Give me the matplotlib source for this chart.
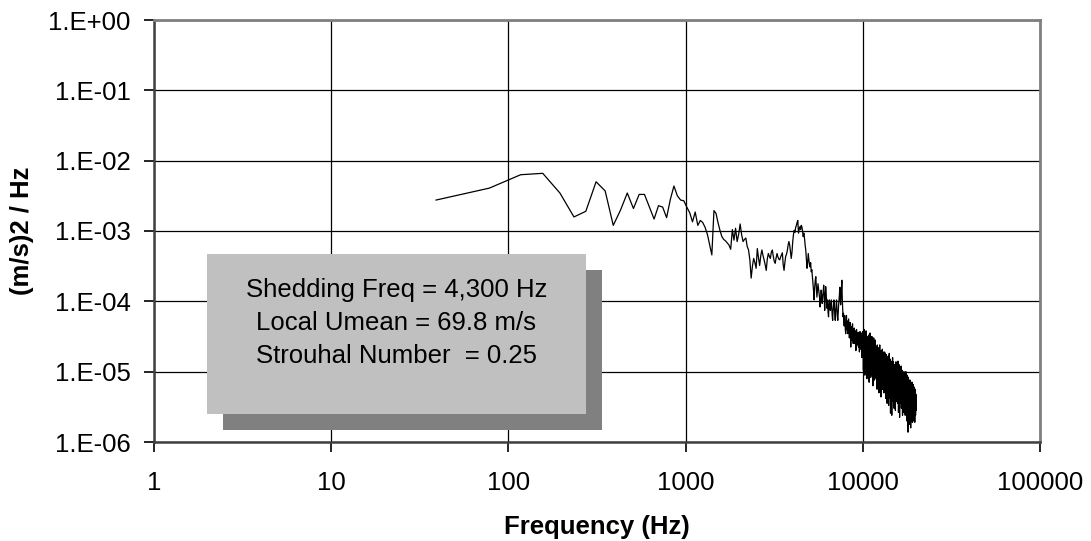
import numpy as np
import matplotlib
matplotlib.use("Agg")
import matplotlib.pyplot as plt
from matplotlib.patches import Rectangle

plt.rcParams['font.family'] = ['Liberation Sans', 'DejaVu Sans']

# ---------------- data ----------------
bin_width_hz = 39.0625          # FFT bin spacing (first bin ~39 Hz, last ~20 kHz)

# log10 of PSD ((m/s)^2/Hz), one value per frequency bin
psd_log10 = [
    -2.56, -2.39, -2.20, -2.18, -2.46, -2.80, -2.72, -2.30, -2.43, -2.92,
    -2.70, -2.46, -2.68, -2.48, -2.48, -2.66, -2.83, -2.64, -2.66, -2.81,
    -2.55, -2.36, -2.50, -2.56, -2.57, -2.66, -2.74, -2.87, -2.73, -2.92,
    -2.85, -2.88, -2.95, -3.05, -3.20, -3.34, -2.71, -2.75, -2.88, -2.99,
    -3.08, -3.12, -3.14, -3.17, -3.20, -3.26, -2.98, -3.13, -2.96, -3.15,
    -3.05, -2.90, -3.05, -3.15, -3.12, -3.10, -3.22, -3.27, -3.41, -3.67,
    -3.50, -3.39, -3.45, -3.53, -3.25, -3.38, -3.49, -3.35, -3.27, -3.35,
    -3.41, -3.48, -3.56, -3.40, -3.32, -3.36, -3.39, -3.30, -3.27, -3.36,
    -3.43, -3.46, -3.38, -3.32, -3.37, -3.40, -3.41, -3.37, -3.34, -3.31,
    -3.48, -3.56, -3.45, -3.36, -3.33, -3.28, -3.20, -3.15, -3.20, -3.30,
    -3.39, -3.30, -3.15, -3.05, -2.99, -3.02, -2.95, -2.92, -2.88, -2.85,
    -3.03, -2.97, -2.94, -2.98, -2.92, -2.94, -3.00, -3.08, -3.03, -3.10,
    -3.20, -3.27, -3.40, -3.53, -3.45, -3.32, -3.40, -3.48, -3.51, -3.45,
    -3.58, -3.55, -3.65, -3.75, -3.85, -3.98, -3.80, -3.70, -3.65, -3.80,
    -3.94, -3.85, -3.75, -3.82, -3.90, -3.95, -4.08, -3.95, -3.84, -3.92,
    -4.03, -3.95, -3.85, -3.77, -3.90, -4.13, -3.95, -3.79, -3.88, -4.03,
    -4.10, -3.98, -4.15, -4.22, -4.05, -3.98, -4.08, -4.13, -4.05, -3.98,
    -4.10, -4.20, -4.27, -4.13, -4.05, -3.98, -4.10, -4.18, -4.27, -4.13,
    -4.05, -3.98, -4.12, -4.22, -4.27, -4.15, -4.05, -3.98, -3.90, -3.80,
    -3.98, -4.05, -3.92, -3.82, -3.70, -3.95, -4.10, -4.22, -4.17, -4.27,
    -4.35, -4.20, -4.30, -4.40, -4.46, -4.30, -4.20, -4.35, -4.41, -4.28,
    -4.46, -4.35, -4.25, -4.40, -4.52, -4.38, -4.30, -4.45, -4.65, -4.36,
    -4.42, -4.55, -4.40, -4.32, -4.50, -4.60, -4.45, -4.55, -4.38, -4.48,
    -4.60, -4.42, -4.55, -4.70, -4.50, -4.40, -4.58, -4.46, -4.62, -4.52,
    -4.44, -4.65, -4.55, -4.48, -4.72, -4.50, -4.43, -4.60, -4.68, -4.52,
    -4.45, -4.62, -4.80, -4.55, -4.48, -4.43,
    -4.45, -4.98, -4.58, -4.85, -4.40, -4.75, -5.05, -4.52, -4.70, -4.92, -4.42, -4.80, -4.55, -5.10, -4.60, -4.88,
    -4.95, -4.50, -5.02, -4.48, -4.72, -5.15, -4.55, -4.88, -4.45, -4.98, -4.65, -5.08, -4.52, -4.80, -5.00, -4.50,
    -4.62, -5.05, -4.68, -5.20, -4.58, -4.90, -4.52, -5.02, -4.75, -5.12, -4.65, -4.95, -4.55, -5.08, -4.85, -4.66,
    -5.10, -4.65, -4.95, -5.25, -4.62, -5.02, -4.75, -5.18, -4.66, -4.98, -4.85, -5.30, -4.70, -5.05, -4.62, -5.15,
    -4.72, -5.12, -4.85, -5.36, -4.70, -5.00, -5.20, -4.75, -5.05, -4.68, -5.25, -4.88, -5.12, -4.72, -5.05, -5.30,
    -4.78, -5.20, -4.90, -4.72, -5.30, -4.95, -5.12, -4.75, -5.38, -4.88, -5.05, -4.76, -5.22, -4.95, -5.45, -4.82,
    -5.15, -4.82, -5.30, -4.78, -5.02, -5.48, -4.88, -5.18, -4.74, -5.25, -5.00, -5.38, -4.82, -5.10, -5.59, -4.90,
    -5.20, -4.85, -5.35, -4.98, -5.62, -4.90, -5.25, -5.05, -4.80, -5.32, -4.98, -5.42, -4.86, -5.22, -5.02, -5.52,
    -4.90, -5.30, -5.02, -5.48, -4.92, -5.20, -5.55, -4.96, -5.32, -4.86, -5.12, -5.42, -5.00, -5.25, -4.88, -5.40,
    -5.05, -5.45, -4.95, -4.85, -5.35, -5.15, -5.58, -5.00, -5.28, -4.90, -5.40, -5.08, -5.65, -5.00, -5.30, -4.95,
    -5.35, -5.00, -5.45, -5.10, -4.92, -5.32, -5.52, -5.05, -5.28, -4.98, -5.42, -5.12, -5.62, -5.02, -5.35, -5.15,
    -5.05, -5.45, -5.18, -5.58, -5.00, -5.35, -5.12, -5.52, -5.02, -5.40, -5.20, -5.62, -5.08, -5.45, -5.15, -5.00,
    -5.38, -5.08, -5.55, -5.18, -5.70, -5.25, -5.05, -5.48, -5.20, -5.62, -5.10, -5.45, -5.86, -5.25, -5.08, -5.52,
    -5.15, -5.55, -5.25, -5.68, -5.12, -5.42, -5.22, -5.75, -5.28, -5.12, -5.52, -5.22, -5.80, -5.30, -5.15, -5.58,
    -5.45, -5.18, -5.65, -5.28, -5.55, -5.15, -5.48, -5.72, -5.25, -5.60, -5.32, -5.18, -5.58, -5.30, -5.70, -5.22,
    -5.52, -5.28, -5.65, -5.22, -5.55, -5.35, -5.72, -5.30, -5.58, -5.40, -5.25, -5.62, -5.42, -5.32, -5.55, -5.45,
]

x_ticks = [1, 10, 100, 1000, 10000, 100000]
x_tick_labels = ["1", "10", "100", "1000", "10000", "100000"]
y_ticks = [1e-6, 1e-5, 1e-4, 1e-3, 1e-2, 1e-1, 1e0]
y_tick_labels = ["1.E-06", "1.E-05", "1.E-04", "1.E-03", "1.E-02", "1.E-01", "1.E+00"]

x_label = "Frequency (Hz)"
y_label = "(m/s)2 / Hz"
note_lines = ["Shedding Freq = 4,300 Hz", "Local Umean = 69.8 m/s", "Strouhal Number  = 0.25"]

psd = np.power(10.0, np.array(psd_log10))
freq = bin_width_hz * np.arange(1, len(psd) + 1)

# ---------------- figure ----------------
W, H = 1091, 541
fig = plt.figure(figsize=(W / 100, H / 100), dpi=100)
fig.patch.set_facecolor("white")

def fx(px):
    return px / W

def fy(py):
    return 1 - py / H

L, R, T, B = 154, 1040, 20, 442
ax = fig.add_axes([fx(L), fy(B), fx(R - L), (B - T) / H])
ax.set_xscale("log")
ax.set_yscale("log")
ax.set_xlim(x_ticks[0], x_ticks[-1])
ax.set_ylim(y_ticks[0], y_ticks[-1])

ax.plot(freq, psd, color="black", lw=0.9, zorder=3)

ax.set_xticks(x_ticks)
ax.set_xticklabels(x_tick_labels)
ax.set_yticks(y_ticks)
ax.set_yticklabels(y_tick_labels)
ax.minorticks_off()
ax.tick_params(axis="both", which="major", direction="out", length=7, width=1.2,
               color="black", labelsize=18.5)
ax.tick_params(axis="x", pad=14)
ax.tick_params(axis="y", pad=10)

ax.grid(True, which="major", color="black", lw=0.9, zorder=1)
ax.set_axisbelow(True)

for side in ("top", "right"):
    ax.spines[side].set_color("#808080")
    ax.spines[side].set_linewidth(2.0)
for side in ("left", "bottom"):
    ax.spines[side].set_color("#404040")
    ax.spines[side].set_linewidth(1.8)

ax.set_xlabel(x_label, fontsize=18.5, fontweight="bold", labelpad=14)
ax.set_ylabel(y_label, fontsize=18.5, fontweight="bold", labelpad=10)

# annotation box with shadow (figure pixel coordinates)
shadow = Rectangle((fx(223), fy(430)), fx(602 - 223), (430 - 270) / H,
                   transform=fig.transFigure, facecolor="#808080", edgecolor="none", zorder=5)
box = Rectangle((fx(207), fy(414)), fx(586 - 207), (414 - 254) / H,
                transform=fig.transFigure, facecolor="#C0C0C0", edgecolor="none", zorder=6)
fig.patches.extend([shadow, box])

line_y = [290, 323, 356]
for txt, py in zip(note_lines, line_y):
    fig.text(fx(396.5), fy(py), txt, ha="center", va="center", fontsize=18.5,
             color="black", zorder=7)

fig.savefig("out.png", dpi=100, facecolor="white")
